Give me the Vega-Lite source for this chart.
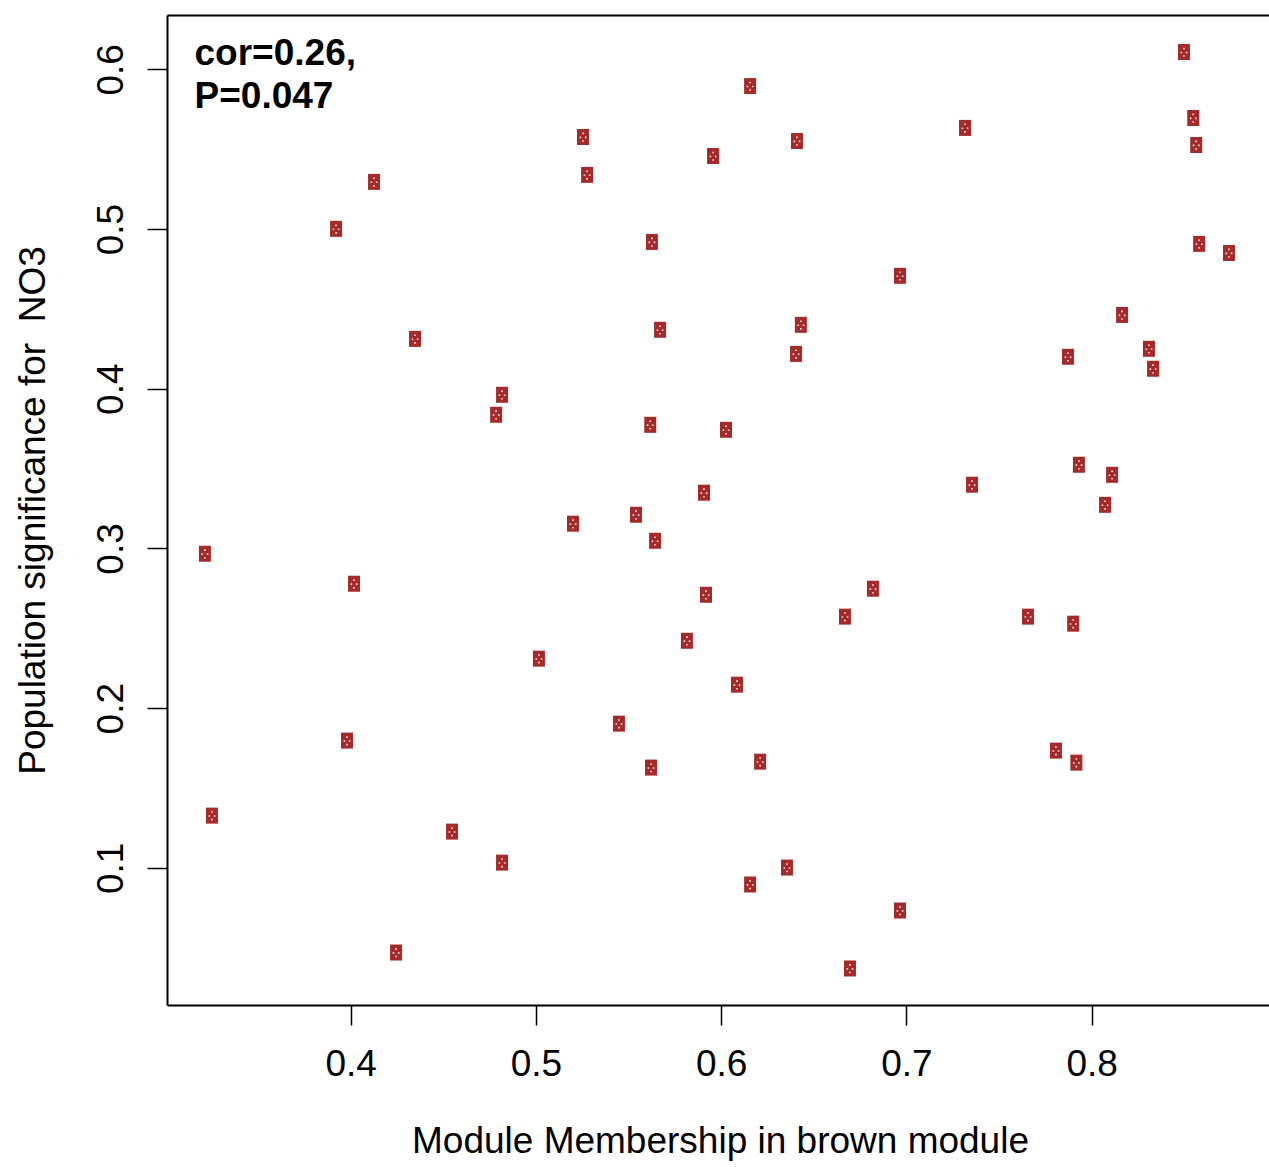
{
  "$schema": "https://vega.github.io/schema/vega-lite/v6.json",
  "width": 1102,
  "height": 990,
  "autosize": {"type": "none"},
  "padding": {"left": 167, "top": 15, "right": 0, "bottom": 162},
  "background": "white",
  "config": {
    "font": "Liberation Sans",
    "view": {"stroke": null},
    "axis": {
      "grid": false,
      "domainColor": "black",
      "domainWidth": 2,
      "tickColor": "black",
      "tickWidth": 1.5,
      "tickSize": 20,
      "labelColor": "black",
      "labelFontSize": 37,
      "labelFlush": false,
      "labelOverlap": false,
      "titleColor": "black",
      "titleFontSize": 37,
      "titleFontWeight": "normal",
      "titleBaseline": "alphabetic",
      "titleAlign": "center"
    }
  },
  "data": {
    "values": [
      {"mm": 0.8498, "gs": 0.6108},
      {"mm": 0.6156, "gs": 0.5895},
      {"mm": 0.7316, "gs": 0.5633},
      {"mm": 0.8548, "gs": 0.5695},
      {"mm": 0.8564, "gs": 0.5526},
      {"mm": 0.5254, "gs": 0.5576},
      {"mm": 0.6409, "gs": 0.5551},
      {"mm": 0.5956, "gs": 0.5457},
      {"mm": 0.5276, "gs": 0.5339},
      {"mm": 0.4126, "gs": 0.5295},
      {"mm": 0.3921, "gs": 0.5001},
      {"mm": 0.5626, "gs": 0.4919},
      {"mm": 0.858, "gs": 0.4907},
      {"mm": 0.8741, "gs": 0.485},
      {"mm": 0.6965, "gs": 0.4707},
      {"mm": 0.8164, "gs": 0.4462},
      {"mm": 0.643, "gs": 0.44},
      {"mm": 0.567, "gs": 0.4369},
      {"mm": 0.4347, "gs": 0.4312},
      {"mm": 0.8309, "gs": 0.425},
      {"mm": 0.6404, "gs": 0.4218},
      {"mm": 0.7872, "gs": 0.42},
      {"mm": 0.8331, "gs": 0.4125},
      {"mm": 0.4817, "gs": 0.3962},
      {"mm": 0.4785, "gs": 0.3837},
      {"mm": 0.5617, "gs": 0.3774},
      {"mm": 0.6026, "gs": 0.3743},
      {"mm": 0.7931, "gs": 0.3524},
      {"mm": 0.811, "gs": 0.3461},
      {"mm": 0.7354, "gs": 0.3399},
      {"mm": 0.5907, "gs": 0.3349},
      {"mm": 0.8072, "gs": 0.3273},
      {"mm": 0.554, "gs": 0.3211},
      {"mm": 0.52, "gs": 0.3155},
      {"mm": 0.5643, "gs": 0.3048},
      {"mm": 0.3213, "gs": 0.2967},
      {"mm": 0.4018, "gs": 0.2779},
      {"mm": 0.6819, "gs": 0.2748},
      {"mm": 0.5918, "gs": 0.271},
      {"mm": 0.6668, "gs": 0.2573},
      {"mm": 0.7656, "gs": 0.2573},
      {"mm": 0.79, "gs": 0.2529},
      {"mm": 0.5815, "gs": 0.2422},
      {"mm": 0.5016, "gs": 0.231},
      {"mm": 0.6085, "gs": 0.2147},
      {"mm": 0.5448, "gs": 0.1903},
      {"mm": 0.398, "gs": 0.1797},
      {"mm": 0.7807, "gs": 0.1734},
      {"mm": 0.621, "gs": 0.1665},
      {"mm": 0.7917, "gs": 0.1659},
      {"mm": 0.5621, "gs": 0.1628},
      {"mm": 0.3251, "gs": 0.1327},
      {"mm": 0.4547, "gs": 0.1227},
      {"mm": 0.4817, "gs": 0.1033},
      {"mm": 0.6355, "gs": 0.1002},
      {"mm": 0.6156, "gs": 0.0896},
      {"mm": 0.6965, "gs": 0.0733},
      {"mm": 0.4245, "gs": 0.047},
      {"mm": 0.6695, "gs": 0.037}
    ]
  },
  "layer": [
    {
      "mark": {
        "type": "point",
        "shape": "M-0.75,-1H0.75V1H-0.75Z",
        "filled": true,
        "size": 256,
        "color": "#a52a2a",
        "opacity": 1
      },
      "encoding": {
        "x": {
          "field": "mm",
          "type": "quantitative",
          "scale": {"domain": [0.30084, 0.8957], "nice": false, "zero": false},
          "axis": {
            "orient": "bottom",
            "values": [0.4, 0.5, 0.6, 0.7, 0.8],
            "format": ".1f",
            "labelBaseline": "alphabetic",
            "labelPadding": 50,
            "title": "Module Membership in brown module",
            "titleX": 553,
            "titleY": 147
          }
        },
        "y": {
          "field": "gs",
          "type": "quantitative",
          "scale": {"domain": [0.01414, 0.634], "nice": false, "zero": false},
          "axis": {
            "orient": "left",
            "values": [0.1, 0.2, 0.3, 0.4, 0.5, 0.6],
            "format": ".1f",
            "labelAngle": -90,
            "labelAlign": "center",
            "labelBaseline": "alphabetic",
            "labelPadding": 25,
            "title": "Population significance for\u00a0 NO3",
            "titleAngle": -90,
            "titleX": -123,
            "titleY": 495
          }
        }
      }
    },
    {
      "mark": {
        "type": "point",
        "shape": "M-0.1,-0.55H0.1V-0.35H-0.1Z M-0.43,-0.05H-0.23V0.15H-0.43Z M0.23,-0.05H0.43V0.15H0.23Z M-0.1,0.4H0.1V0.6H-0.1Z",
        "filled": true,
        "size": 256,
        "color": "white",
        "opacity": 0.85
      },
      "encoding": {
        "x": {
          "field": "mm",
          "type": "quantitative",
          "axis": {
            "orient": "top",
            "labels": false,
            "ticks": false,
            "title": null
          }
        },
        "y": {"field": "gs", "type": "quantitative"}
      }
    },
    {
      "data": {"values": [{"note": "cor"}]},
      "mark": {
        "type": "text",
        "align": "left",
        "baseline": "alphabetic",
        "fontSize": 37,
        "fontWeight": "bold",
        "lineHeight": 43,
        "color": "black"
      },
      "encoding": {
        "x": {"datum": 0.3157, "axis": null},
        "y": {"datum": 0.6027},
        "text": {"value": ["cor=0.26,", "P=0.047"]}
      }
    }
  ],
  "resolve": {"axis": {"x": "independent"}}
}
